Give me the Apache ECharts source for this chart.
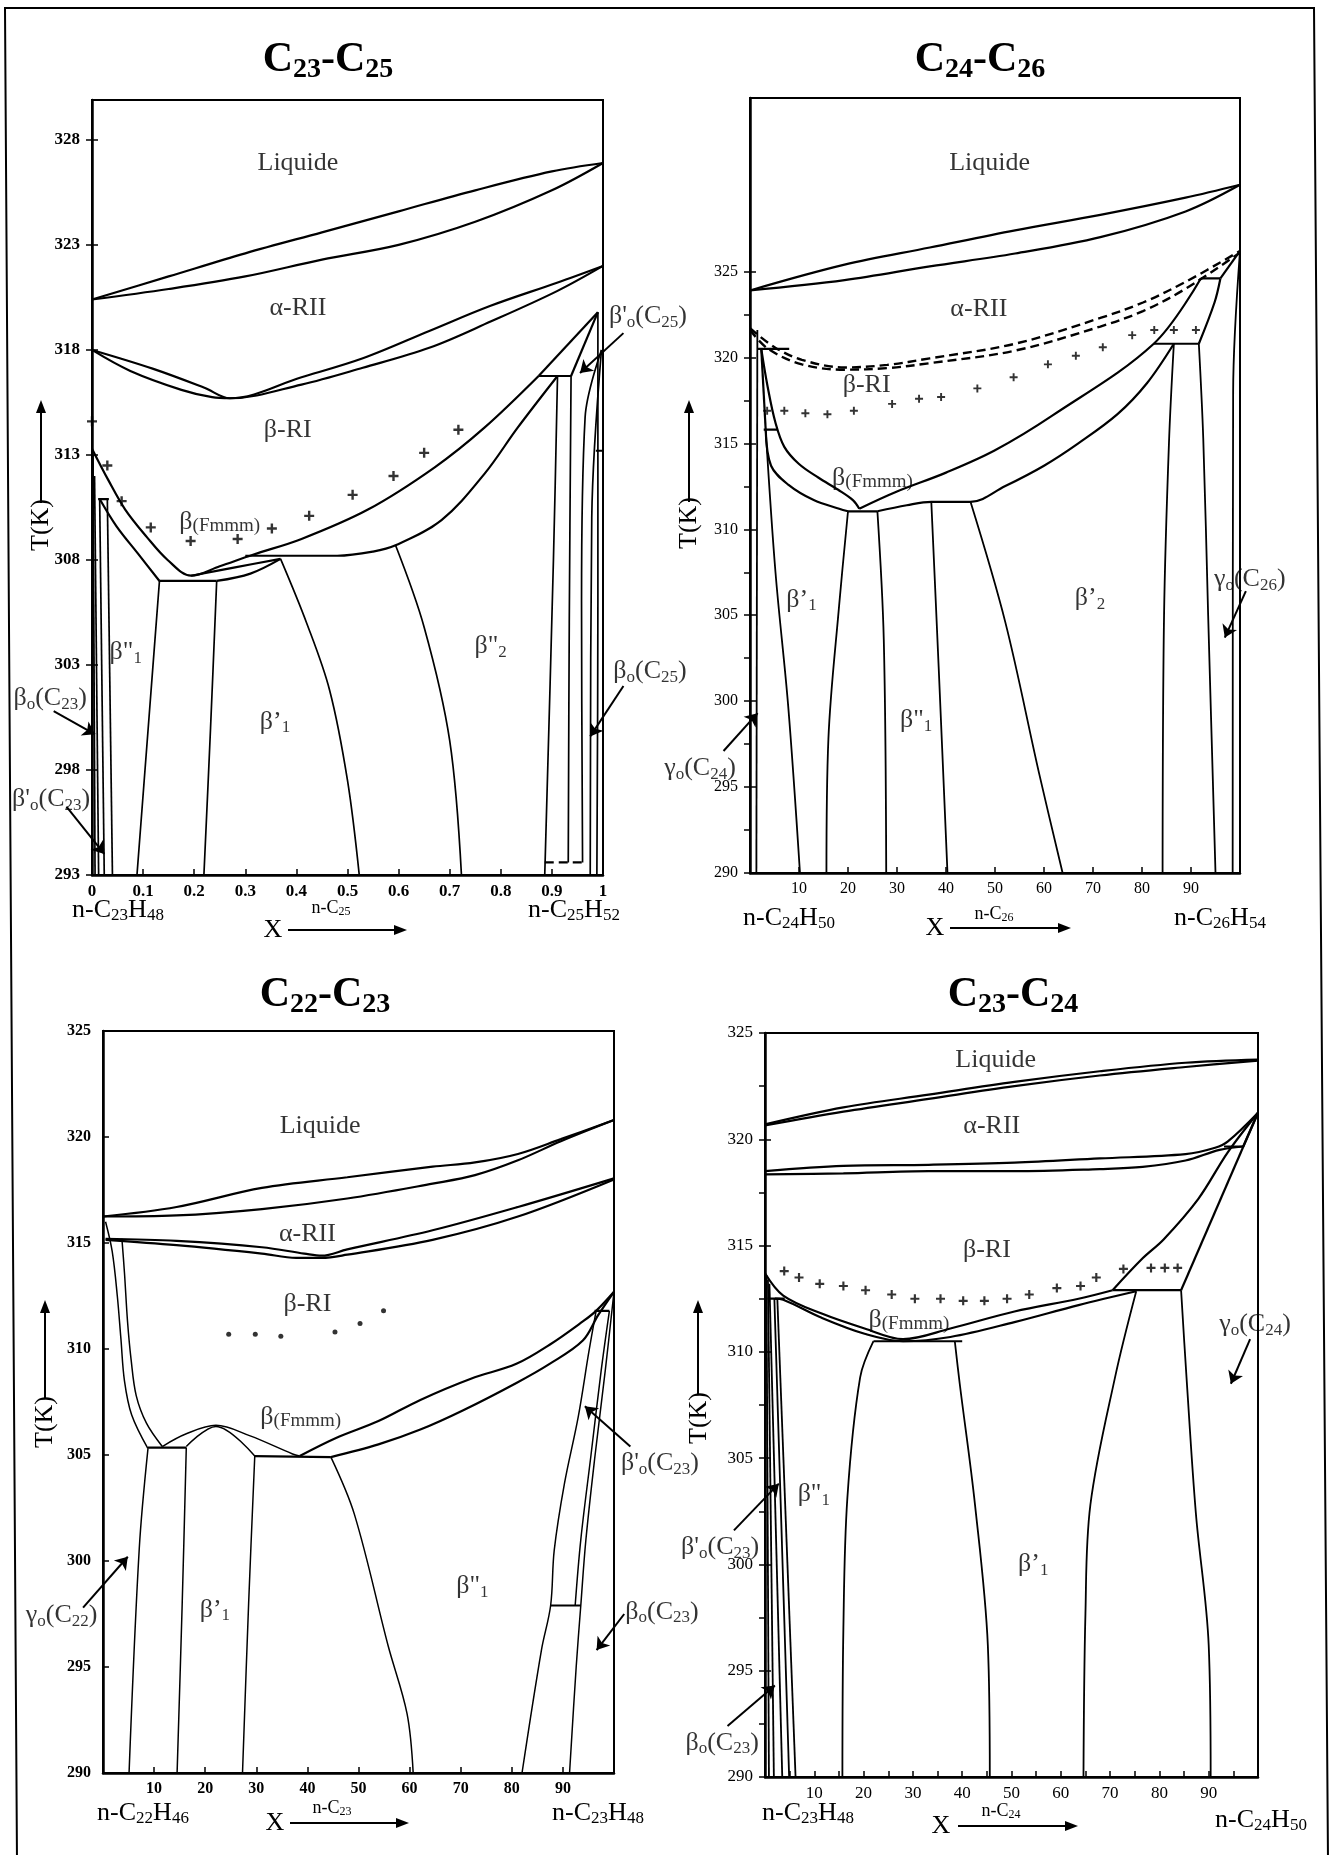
<!DOCTYPE html>
<html><head><meta charset="utf-8">
<script src="https://cdn.jsdelivr.net/npm/echarts@6/dist/echarts.min.js"></script>
<style>html,body{margin:0;padding:0;background:#fff}#c{width:1337px;height:1855px}</style>
</head><body><div id="c"></div>
<script>
const FONT = 'Liberation Serif';

// ---------------- tick labels ----------------
const TL_xTicks = [0,0.1,0.2,0.3,0.4,0.5,0.6,0.7,0.8,0.9,1];
const TL_yTicks = [293,298,303,308,313,318,323,328];
const TR_xTicks = [10,20,30,40,50,60,70,80,90];
const TR_yTicks = [290,295,300,305,310,315,320,325];
const TR_rTicks = [290,292.5,295,297.5,300,302.5,305,307.5,310,312.5,315,317.5,320,322.5,325];
const BL_xTicks = [10,20,30,40,50,60,70,80,90];
const BL_yTicks = [290,295,300,305,310,315,320,325];
const BR_xTicks = [10,20,30,40,50,60,70,80,90];
const BR_xMinor = [5,10,15,20,25,30,35,40,45,50,55,60,65,70,75,80,85,90,95];
const BR_yTicks = [290,295,300,305,310,315,320,325];
const BR_rTicks = [290,292.5,295,297.5,300,302.5,305,307.5,310,312.5,315,317.5,320,322.5,325];

// ---------------- C23-C25 (top left) ----------------
const TL_liqUp = [[0,320.4],[0.15,321.5],[0.3,322.6],[0.45,323.6],[0.6,324.6],[0.75,325.6],[0.9,326.5],[1,326.9]];
const TL_liqLo = [[0,320.4],[0.15,320.9],[0.3,321.5],[0.45,322.3],[0.6,323.0],[0.75,324.1],[0.9,325.6],[1,326.9]];
const TL_alphaUp = [[0,318.0],[0.12,317.1],[0.22,316.2],[0.27,315.7],[0.41,316.7],[0.53,317.6],[0.66,318.9],[0.78,320.1],[0.91,321.2],[1,322.0]];
const TL_alphaLo = [[0,318.0],[0.075,317.0],[0.175,316.1],[0.235,315.75],[0.27,315.7],[0.41,316.35],[0.53,317.15],[0.66,318.1],[0.78,319.35],[0.91,320.8],[1,322.0]];
const TL_betaRI = [[0,313.3],[0.032,311.8],[0.065,310.4],[0.107,309.1],[0.148,308.0],[0.194,307.25],[0.25,307.7],[0.315,308.25],[0.41,309.0],[0.54,310.4],[0.67,312.4],[0.768,314.3],[0.874,316.76]];
const TL_fmmmL = [[0.015,310.9],[0.048,309.6],[0.09,308.3],[0.132,307.0]];
const TL_eut = [[0.132,307.0],[0.244,307.0]];
const TL_lensUp = [[0.194,307.25],[0.28,307.65],[0.369,308.05]];
const TL_lensLo = [[0.244,307.0],[0.31,307.35],[0.369,308.05]];
const TL_fmmmR = [[0.3,308.2],[0.48,308.2],[0.55,308.4],[0.594,308.7],[0.684,309.9],[0.768,312.1],[0.833,314.3],[0.911,316.76]];
const TL_per = [[0.874,316.76],[0.9375,316.76]];
const TL_solR1 = [[0.874,316.76],[0.99,319.8]];
const TL_solR2 = [[0.9375,316.76],[0.99,319.8]];
const TL_v1 = [[0.132,307.0],[0.11,300],[0.088,293]];
const TL_v2 = [[0.244,307.0],[0.232,300],[0.219,293]];
const TL_v3 = [[0.369,308.05],[0.42,305],[0.465,301.8],[0.5,297.5],[0.523,293]];
const TL_v4 = [[0.594,308.7],[0.65,304.8],[0.7,299.4],[0.723,293]];
const TL_v5 = [[0.911,316.76],[0.903,308],[0.886,293]];
const TL_v6 = [[0.9375,316.76],[0.934,305],[0.932,293.6]];
const TL_r1 = [[0.997,318],[0.965,314.8],[0.958,306],[0.96,293.6]];
const TL_r2 = [[0.997,318],[0.978,310],[0.975,293]];
const TL_r3 = [[0.99,319.8],[0.99,306],[0.988,293]];
const TL_r4 = [[0.986,313.2],[1,313.2]];
const TL_dash = [[0.886,293.6],[0.96,293.6]];
const TL_lh = [[0.012,310.9],[0.033,310.9]];
const TL_l1 = [[0.002,313.0],[0.006,293]];
const TL_l2 = [[0.005,312.0],[0.013,293]];
const TL_l3 = [[0.015,310.9],[0.024,293]];
const TL_l4 = [[0.03,310.9],[0.04,293]];
const TL_plus = [[0,314.6],[0.03,312.5],[0.058,310.8],[0.115,309.55],[0.193,308.9],[0.285,309.0],[0.352,309.5],[0.425,310.1],[0.51,311.1],[0.59,312.0],[0.65,313.1],[0.717,314.2]];
const TL_labels = [[0.403,326.9,'Liquide'],[0.403,320.0,'α-RII'],[0.383,314.2,'β-RI'],[0.25,309.8,'β~{(Fmmm)}'],[0.066,303.6,'β"_1'],[0.358,300.3,'β’_1'],[0.78,303.9,'β"_2'],[1.088,319.6,"β'_o(C_{25})"],[1.092,302.7,'β_o(C_{25})'],[-0.082,301.4,'β_o(C_{23})'],[-0.08,296.6,"β'_o(C_{23})"]];
const TL_arrows = [[1.04,318.8,0.955,316.9],[1.04,302.0,0.975,299.6],[-0.075,300.8,0.006,299.7],[-0.05,296.25,0.024,294.0]];

// ---------------- C24-C26 (top right) ----------------
const TR_liqUp = [[0,323.9],[19.3,325.4],[36.7,326.4],[54.1,327.4],[71.5,328.3],[88.9,329.3],[100,330.05]];
const TR_liqLo = [[0,323.9],[19.3,324.5],[36.7,325.3],[54.1,326.05],[71.5,327.0],[88.9,328.5],[100,330.05]];
const TR_dashUp = [[0,321.7],[5,320.6],[10.6,319.86],[19.3,319.42],[28,319.57],[36.7,319.95],[54.1,320.8],[71.5,322.3],[80.2,323.2],[88.9,324.4],[100,326.2]];
const TR_dashLo = [[0,321.6],[3.7,320.5],[10.6,319.6],[19.3,319.29],[28,319.38],[36.7,319.67],[54.1,320.4],[71.5,321.8],[80.2,322.7],[88.9,324.0],[100,326.1]];
const TR_shortH = [[1.5,320.5],[8,320.5]];
const TR_outer = [[2.3,320.5],[3.6,318.3],[5.2,316.2],[7,314.8],[10,313.8],[14,313.0],[18,312.3],[21,311.7],[22.3,311.2]];
const TR_inner = [[3.2,315.8],[4.3,313.7],[7.8,312.6],[13,311.7],[18.2,311.2],[20,311.05]];
const TR_steep = [[2.3,320.5],[3.2,315.8]];
const TR_h158 = [[2.8,315.8],[5.6,315.8]];
const TR_axis = [[1.5,321.6],[1.3,290]];
const TR_b1L = [[3.2,315.8],[5.2,307.5],[7.8,299.7],[10.2,290]];
const TR_eut = [[20,311.05],[26,311.05]];
const TR_C = [[22.3,311.2],[30,312.2],[40,313.3],[50,314.6],[61.6,316.6],[82.4,320.8],[92,324.6]];
const TR_D = [[26,311.05],[32,311.4],[37,311.6],[45,311.6],[52,312.5],[60,313.7],[67,315.0],[75,316.7],[81,318.5],[86.5,320.8]];
const TR_per1 = [[82.4,320.8],[91.6,320.8]];
const TR_per2 = [[92,324.6],[96,324.6]];
const TR_top = [[96,324.6],[100,326.2]];
const TR_arc = [[91.6,320.8],[94.8,323.2],[96,324.6]];
const TR_v1 = [[20,311.05],[18.2,305.6],[16,297.8],[15.6,290]];
const TR_v2 = [[26,311.05],[27.3,303.6],[27.8,290]];
const TR_v3 = [[37,311.6],[38.5,302],[40.3,290]];
const TR_v4 = [[45,311.6],[52.1,304.6],[59,295.8],[63.8,290]];
const TR_v5 = [[86.5,320.8],[85.5,315],[84.5,305],[84.2,290]];
const TR_v6 = [[91.6,320.8],[92.5,315.3],[93.5,305],[95,290]];
const TR_v7 = [[100,326.2],[98.6,318],[98.5,290]];
const TR_plus = [[3.5,316.9],[7,316.9],[11.3,316.75],[15.8,316.7],[21.2,316.9],[29,317.3],[34.5,317.6],[39,317.7],[46.4,318.2],[53.8,318.85],[60.8,319.6],[66.5,320.1],[72,320.6],[78,321.3],[82.5,321.6],[86.5,321.6],[91,321.6]];
const TR_labels = [[48.9,331.3,'Liquide'],[46.7,322.8,'α-RII'],[23.8,318.4,'β-RI'],[25,313.0,'β~{(Fmmm)}'],[10.5,305.9,'β’_1'],[33.9,298.9,'β"_1'],[69.4,306,'β’_2'],[102,307.1,'γ_o(C_{26})'],[-10.2,296.1,'γ_o(C_{24})']];
const TR_arrows = [[101.2,306.4,96.9,303.7],[-5.4,297.1,1.55,299.3]];

// ---------------- C22-C23 (bottom left) ----------------
const BL_liqUp = [[0,316.25],[14.4,316.7],[31.1,317.6],[47.8,318.1],[64.5,318.6],[72.8,318.8],[81.2,319.2],[89.6,319.9],[100,320.8]];
const BL_liqLo = [[0,316.25],[14.4,316.3],[31.1,316.6],[47.8,317.1],[64.5,317.8],[72.8,318.2],[81.2,318.9],[89.6,319.8],[100,320.8]];
const BL_alphaUp = [[0.5,315.2],[14.4,315.1],[31.1,314.8],[39.4,314.5],[42.8,314.4],[47.8,314.7],[64.5,315.6],[81.2,316.7],[100,318.05]];
const BL_alphaLo = [[0.5,315.15],[14.4,314.9],[31.1,314.5],[37.8,314.3],[42.8,314.3],[47.8,314.45],[64.5,315.15],[81.2,316.25],[100,318.0]];
const BL_outer = [[0.5,316.0],[1.8,314.6],[2.8,312.5],[3.5,310.5],[4.2,308.5],[5.6,306.9],[8.8,305.3]];
const BL_inner = [[3.7,315.2],[4.2,313.6],[4.8,311.3],[5.5,309.5],[6.5,307.8],[8.5,306.5],[11.6,305.4]];
const BL_eut1 = [[8.8,305.35],[16.3,305.35]];
const BL_dome1 = [[11.6,305.4],[16.3,306.0],[22.1,306.4],[28.8,305.9],[37.1,305.05],[38.5,304.95]];
const BL_dome2 = [[16.3,305.4],[22.1,306.35],[29.7,304.95]];
const BL_eut2 = [[29.7,304.95],[44.6,304.9]];
const BL_C = [[38.5,304.95],[45.6,305.8],[53.9,306.6],[62.1,307.6],[72,308.6],[80.9,309.3],[87.4,310.2],[93.9,311.3],[96.5,311.8],[100,312.7]];
const BL_D = [[44.6,304.9],[53.9,305.5],[62.1,306.2],[70.4,307.1],[80.9,308.4],[87.4,309.3],[93.9,310.4],[96.9,311.6],[100,312.7]];
const BL_h118 = [[96.2,311.8],[99.1,311.8]];
const BL_R1 = [[96.5,311.8],[95.1,309.9],[93,306.8],[90.3,303.65],[88.3,300.5],[87.6,297.9],[85.8,295.8],[82,290]];
const BL_R2 = [[99.1,311.8],[97.5,309],[95.5,305],[93.5,301],[92.4,297.9]];
const BL_R3 = [[100,312.7],[98.3,309],[96.3,305],[94.5,301],[93.5,297.9],[92.6,295],[91.3,290]];
const BL_h979 = [[87.6,297.9],[93.5,297.9]];
const BL_v1 = [[8.8,305.3],[7.1,300.6],[5.1,290]];
const BL_v2 = [[16.3,305.35],[15.5,298],[14.5,290]];
const BL_v3 = [[29.7,304.95],[28.5,298],[27.3,290]];
const BL_v4 = [[44.6,304.9],[49.2,302.2],[55.8,296],[59.5,292.8],[60.7,290]];
const BL_dots = [[24.6,310.7],[29.8,310.7],[34.8,310.6],[45.4,310.8],[50.3,311.2],[54.9,311.8]];
const BL_labels = [[42.5,320.5,'Liquide'],[40,315.4,'α-RII'],[40,312.1,'β-RI'],[38.7,306.8,'β~{(Fmmm)}'],[21.9,297.7,'β’_1'],[72.3,298.8,'β"_1'],[-8.1,297.45,'γ_o(C_{22})'],[109,304.6,"β'_o(C_{23})"],[109.4,297.6,'β_o(C_{23})']];
const BL_arrows = [[-3.9,297.8,4.85,300.2],[103.2,305.4,94.3,307.3],[102,297.5,96.6,295.8]];

// ---------------- C23-C24 (bottom right) ----------------
const BR_liqUp = [[0,320.7],[15.9,321.5],[33.2,322.1],[50.6,322.7],[67.9,323.2],[85.3,323.6],[100,323.75]];
const BR_liqLo = [[0,320.65],[15.9,321.3],[33.2,321.9],[50.6,322.5],[67.9,323.0],[85.3,323.4],[100,323.7]];
const BR_alphaUp = [[0,318.5],[15.9,318.75],[33.2,318.8],[50.6,318.9],[67.9,319.1],[85.3,319.3],[91.3,319.6],[93.9,319.9],[100,321.25]];
const BR_alphaLo = [[0,318.35],[15.9,318.4],[33.2,318.5],[50.6,318.5],[67.9,318.6],[76.6,318.7],[85.3,319.0],[92.2,319.5],[97,319.66]];
const BR_per1 = [[93.1,319.66],[97,319.66]];
const BR_p2 = [[97,319.66],[100,321.25]];
const BR_Cright = [[100,321.25],[93.9,319.4],[87.9,317.2],[80.9,315.3],[76.6,314.4],[70.5,312.9]];
const BR_straight = [[100,321.25],[84.4,312.9]];
const BR_per2 = [[70.5,312.9],[84.4,312.9]];
const BR_fU = [[0,313.7],[3.7,312.65],[11.5,311.8],[20.2,311.1],[28,310.6],[37.6,311.1],[50.6,311.9],[63.6,312.5],[70.5,312.9]];
const BR_fL = [[2,312.5],[3.7,312.45],[11.5,311.6],[20.2,310.85],[28,310.5],[37.6,310.7],[50.6,311.4],[63.6,312.2],[75.3,312.85]];
const BR_eut = [[22,310.5],[40,310.5]];
const BR_h125 = [[0.5,312.5],[4,312.5]];
const BR_v1 = [[22,310.5],[19.3,308.8],[16.7,303.1],[15.9,297],[15.7,290]];
const BR_v2 = [[38.5,310.5],[39.5,308.5],[42.6,302.8],[45.2,296.2],[45.6,290]];
const BR_v3 = [[75.3,312.85],[71,308.8],[66,302.8],[65,297.7],[64.6,290]];
const BR_v4 = [[84.4,312.9],[85.5,308.8],[87.4,302.4],[90,296.2],[90.4,290]];
const BR_l1 = [[0.3,313.6],[0.8,290]];
const BR_l2 = [[0.6,313.4],[1.8,290]];
const BR_l3 = [[0.9,313.2],[3.5,290]];
const BR_l4 = [[1.9,312.5],[4.9,290]];
const BR_l5 = [[2.5,312.5],[6.2,290]];
const BR_plus = [[3.9,313.8],[6.9,313.5],[11.1,313.2],[15.9,313.1],[20.4,312.9],[25.7,312.7],[30.4,312.5],[35.6,312.5],[40.2,312.4],[44.5,312.4],[49.1,312.5],[53.6,312.7],[59.2,313.0],[64,313.1],[67.2,313.5],[72.7,313.9],[78.3,313.95],[81.1,313.95],[83.7,313.95]];
const BR_labels = [[46.8,323.7,'Liquide'],[46,320.6,'α-RII'],[45,314.8,'β-RI'],[29.2,311.5,'β~{(Fmmm)}'],[9.9,303.3,'β"_1'],[54.4,300.0,'β’_1'],[99.4,311.3,'γ_o(C_{24})'],[-9.1,300.8,"β'_o(C_{23})"],[-8.7,291.6,'β_o(C_{23})']];
const BR_arrows = [[98.4,310.6,94.5,308.5],[-6.3,301.6,2.8,303.8],[-7.6,292.4,2.0,294.3]];

// ---------------- helpers ----------------
function toRich(s){
  let out='', buf='';
  const flush=()=>{ if(buf){ out+='{n|'+buf+'}'; buf=''; } };
  for(let i=0;i<s.length;i++){
    const ch=s[i];
    if((ch==='_'||ch==='~') && i+1<s.length){
      let t;
      if(s[i+1]==='{'){ const j=s.indexOf('}',i+2); t=s.slice(i+2,j); i=j; }
      else { t=s[i+1]; i++; }
      flush();
      out+='{'+(ch==='_'?'s':'m')+'|'+t+'}';
    } else buf+=ch;
  }
  flush();
  return out;
}
function richSet(f,bold){
  const w = bold?'bold':'normal';
  return {
    n:{fontSize:f,fontFamily:FONT,fontWeight:w,color:'#000'},
    s:{fontSize:Math.round(f*0.66),fontFamily:FONT,fontWeight:w,color:'#000',padding:[Math.round(f*0.45),0,0,0]},
    m:{fontSize:Math.round(f*0.74),fontFamily:FONT,fontWeight:'normal',color:'#000',padding:[Math.round(f*0.3),0,0,0]}
  };
}

const panels = [
  {g:{left:92,top:100,width:511,height:775}, xr:[0,1], yr:[293,329.9], xt:TL_xTicks, xl:TL_xTicks, yt:TL_yTicks, rt:TL_yTicks, fs:17, fw:'bold'},
  {g:{left:750,top:98,width:490,height:775}, xr:[0,100], yr:[290,335.1], xt:TR_xTicks, xl:TR_xTicks, yt:TR_yTicks, rt:TR_rTicks, fs:16, fw:'normal'},
  {g:{left:103,top:1031,width:511,height:742}, xr:[0,100], yr:[290,325], xt:BL_xTicks, xl:BL_xTicks, yt:BL_yTicks, rt:null, fs:16, fw:'bold'},
  {g:{left:765,top:1033,width:493,height:744}, xr:[0,100], yr:[290,325], xt:BR_xMinor, xl:BR_xTicks, yt:BR_yTicks, rt:BR_rTicks, fs:17, fw:'normal'}
];

const S = [];
function ln(p,d,o){ o=o||{}; S.push({type:'line',xAxisIndex:p,yAxisIndex:p,data:d,symbol:'none',showSymbol:false,
  smooth:(o.s===undefined?0.35:o.s),lineStyle:{color:'#000',width:o.w||2.2,type:o.dash?[9,5]:'solid'},silent:true,clip:false,z:3,animation:false}); }
const PLUS='path://M0,3.8H10V6.2H0Z M3.8,0H6.2V10H3.8Z';
function pts(p,d,sym,size){ S.push({type:'scatter',xAxisIndex:p,yAxisIndex:p,data:d,symbol:sym,symbolSize:size,itemStyle:{color:'#000'},silent:true,clip:false,z:4}); }
function labs(p,d,f){ S.push({type:'scatter',xAxisIndex:p,yAxisIndex:p,data:d.map(a=>({name:a[2],value:[a[0],a[1]]})),symbolSize:1,
  itemStyle:{color:'rgba(0,0,0,0)'},label:{show:true,position:'inside',color:'#000',fontFamily:FONT,formatter:q=>toRich(q.name),rich:richSet(f,false)},silent:true,clip:false,z:6}); }
function arr(p,d){ S.push({type:'lines',coordinateSystem:'cartesian2d',xAxisIndex:p,yAxisIndex:p,
  data:d.map(a=>({coords:[[a[0],a[1]],[a[2],a[3]]]})),symbol:['none','arrow'],symbolSize:12,lineStyle:{color:'#000',width:2,opacity:1,curveness:0},silent:true,clip:false,z:5}); }

// TL
[TL_liqUp,TL_liqLo,TL_alphaUp,TL_alphaLo,TL_betaRI,TL_fmmmL,TL_lensUp,TL_lensLo,TL_fmmmR].forEach(d=>ln(0,d));
[TL_eut,TL_per,TL_solR1,TL_solR2,TL_r4,TL_lh].forEach(d=>ln(0,d,{s:0}));
[TL_v1,TL_v2,TL_v3,TL_v4,TL_v5,TL_v6,TL_r1,TL_r2,TL_r3,TL_l1,TL_l2,TL_l3,TL_l4].forEach(d=>ln(0,d,{w:1.7}));
ln(0,TL_dash,{s:0,dash:true,w:2.2});
pts(0,TL_plus,PLUS,10);
labs(0,TL_labels,26);
arr(0,TL_arrows);
// TR
[TR_liqUp,TR_liqLo,TR_outer,TR_inner,TR_C,TR_D,TR_arc].forEach(d=>ln(1,d));
[TR_dashUp,TR_dashLo].forEach(d=>ln(1,d,{dash:true,w:2.4}));
[TR_shortH,TR_steep,TR_h158,TR_eut,TR_per1,TR_per2,TR_top].forEach(d=>ln(1,d,{s:0}));
[TR_axis,TR_b1L,TR_v1,TR_v2,TR_v3,TR_v4,TR_v5,TR_v6,TR_v7].forEach(d=>ln(1,d,{w:1.8}));
pts(1,TR_plus,PLUS,8);
labs(1,TR_labels,26);
arr(1,TR_arrows);
// BL
[BL_liqUp,BL_liqLo,BL_alphaUp,BL_alphaLo,BL_C,BL_D].forEach(d=>ln(2,d));
[BL_outer,BL_inner,BL_dome1,BL_dome2,BL_R1,BL_R2,BL_R3].forEach(d=>ln(2,d,{w:1.5}));
[BL_eut1,BL_eut2,BL_h118,BL_h979].forEach(d=>ln(2,d,{s:0}));
[BL_v1,BL_v2,BL_v3,BL_v4].forEach(d=>ln(2,d,{w:1.5}));
pts(2,BL_dots,'circle',5);
labs(2,BL_labels,26);
arr(2,BL_arrows);
// BR
[BR_liqUp,BR_liqLo,BR_alphaUp,BR_alphaLo,BR_Cright,BR_fU,BR_fL].forEach(d=>ln(3,d));
[BR_per1,BR_p2,BR_straight,BR_per2,BR_eut,BR_h125].forEach(d=>ln(3,d,{s:0}));
[BR_v1,BR_v2,BR_v3,BR_v4,BR_l1,BR_l2,BR_l3,BR_l4,BR_l5].forEach(d=>ln(3,d,{w:1.8}));
pts(3,BR_plus,PLUS,9);
labs(3,BR_labels,26);
arr(3,BR_arrows);

// ---------------- graphic (titles, axis notes, frame) ----------------
const G = [];
function gtext(x,y,m,f,bold,rot){ G.push({type:'text',x:x,y:y,rotation:rot||0,z:10,
  style:{text:toRich(m),rich:richSet(f,bold),fill:'#000',align:'center',verticalAlign:'middle',textAlign:'center',textVerticalAlign:'middle',font:(bold?'bold ':'')+f+'px '+FONT}}); }
function garrow(x1,y1,x2,y2){
  const dx=x2-x1, dy=y2-y1, L=Math.hypot(dx,dy), ux=dx/L, uy=dy/L, hl=13, hw=5;
  G.push({type:'line',z:10,shape:{x1:x1,y1:y1,x2:x2-ux*hl*0.7,y2:y2-uy*hl*0.7},style:{stroke:'#000',lineWidth:2}});
  G.push({type:'polygon',z:10,shape:{points:[[x2,y2],[x2-ux*hl-uy*hw,y2-uy*hl+ux*hw],[x2-ux*hl+uy*hw,y2-uy*hl-ux*hw]]},style:{fill:'#000'}});
}
G.push({type:'polyline',z:10,shape:{points:[[17,1860],[5,8],[1314,8],[1328,1860]]},style:{stroke:'#000',lineWidth:2,fill:null}});
gtext(328,60,'C_{23}-C_{25}',42,true);
gtext(980,60,'C_{24}-C_{26}',42,true);
gtext(325,995,'C_{22}-C_{23}',42,true);
gtext(1013,995,'C_{23}-C_{24}',42,true);

const NOTES = [
  {tk:[41,525], tka:[41,503,41,400], l:['n-C_{23}H_{48}',118,910], r:['n-C_{25}H_{52}',574,910], X:[273,930], xa:[288,930,407,930], c:['n-C_{25}',331,908]},
  {tk:[689,523], tka:[689,502,689,400], l:['n-C_{24}H_{50}',789,918], r:['n-C_{26}H_{54}',1220,918], X:[935,928], xa:[950,928,1071,928], c:['n-C_{26}',994,914]},
  {tk:[45,1422], tka:[45,1398,45,1300], l:['n-C_{22}H_{46}',143,1813], r:['n-C_{23}H_{48}',598,1813], X:[275,1823], xa:[290,1823,409,1823], c:['n-C_{23}',332,1808]},
  {tk:[699,1418], tka:[698,1394,698,1300], l:['n-C_{23}H_{48}',808,1813], r:['n-C_{24}H_{50}',1261,1820], X:[941,1826], xa:[958,1826,1078,1826], c:['n-C_{24}',1001,1811]}
];
NOTES.forEach(n=>{
  gtext(n.tk[0],n.tk[1],'T(K)',26,false,Math.PI/2);
  garrow(n.tka[0],n.tka[1],n.tka[2],n.tka[3]);
  gtext(n.l[1],n.l[2],n.l[0],26,false);
  gtext(n.r[1],n.r[2],n.r[0],26,false);
  gtext(n.X[0],n.X[1],'X',26,false);
  garrow(n.xa[0],n.xa[1],n.xa[2],n.xa[3]);
  gtext(n.c[1],n.c[2],n.c[0],18,false);
});

// ---------------- axes ----------------
const xAxis = panels.map((p,i)=>({type:'value',gridIndex:i,min:p.xr[0],max:p.xr[1],
  axisLine:{show:true,onZero:false,lineStyle:{color:'#000',width:2.5}},
  axisTick:{show:true,inside:true,length:6,customValues:p.xt,lineStyle:{color:'#000',width:1.5}},
  axisLabel:{show:true,customValues:p.xl,color:'#000',fontFamily:FONT,fontSize:p.fs,fontWeight:p.fw,margin:8},
  splitLine:{show:false}}));
const yAxis = panels.map((p,i)=>({type:'value',gridIndex:i,min:p.yr[0],max:p.yr[1],position:'left',
  axisLine:{show:true,onZero:false,lineStyle:{color:'#000',width:2.5}},
  axisTick:{show:true,inside:true,length:6,customValues:p.yt,lineStyle:{color:'#000',width:1.5}},
  axisLabel:{show:true,customValues:p.yt,color:'#000',fontFamily:FONT,fontSize:p.fs,fontWeight:p.fw,margin:12},
  splitLine:{show:false}}));
panels.forEach((p,i)=>{ if(p.rt){ yAxis.push({type:'value',gridIndex:i,min:p.yr[0],max:p.yr[1],position:'right',
  axisLine:{show:false},axisTick:{show:true,inside:true,length:6,customValues:p.rt,lineStyle:{color:'#000',width:1.5}},
  axisLabel:{show:false},splitLine:{show:false}}); }});

const chart = echarts.init(document.getElementById('c'),null,{renderer:'canvas',width:1337,height:1855});
chart.setOption({
  animation:false,
  backgroundColor:'#fff',
  grid: panels.map(p=>Object.assign({show:true,borderColor:'#000',borderWidth:2,backgroundColor:'rgba(0,0,0,0)',containLabel:false,outerBoundsMode:'none'},p.g)),
  xAxis: xAxis,
  yAxis: yAxis,
  series: S,
  graphic: G
});
</script></body></html>
